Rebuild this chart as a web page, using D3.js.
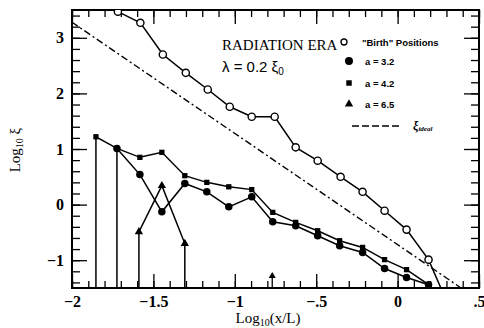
<!DOCTYPE html>
<html>
<head>
<meta charset="utf-8">
<script src="https://d3js.org/d3.v7.min.js"></script>
<style>
  body { margin: 0; background: #fff; }
  text { font-family: "Liberation Serif", "DejaVu Serif", serif; fill: #000; }
</style>
</head>
<body>
<div id="chart"></div>
<script>
// "Birth" positions (open circles)
var birthX = [-1.853, -1.718, -1.58, -1.442, -1.301, -1.166, -1.031, -0.896, -0.755, -0.626, -0.491, -0.350, -0.215, -0.080, 0.055, 0.190, 0.325];
var birthY = [3.62, 3.47, 3.27, 2.70, 2.37, 2.07, 1.76, 1.58, 1.58, 1.03, 0.79, 0.50, 0.23, -0.11, -0.45, -0.99, -1.90];

// a = 3.2 (filled circles); first value is where the curve drops to the floor
var a32X = [-1.724, -1.724, -1.583, -1.448, -1.307, -1.172, -1.037, -0.896, -0.767, -0.626, -0.491, -0.356, -0.215, -0.080, 0.055, 0.190, 0.325];
var a32Y = [-1.5, 1.01, 0.54, -0.13, 0.38, 0.23, -0.04, 0.14, -0.31, -0.38, -0.56, -0.74, -0.86, -1.15, -1.31, -1.44, -1.90];

// a = 4.2 (filled squares)
var a42X = [-1.853, -1.853, -1.724, -1.583, -1.448, -1.307, -1.172, -1.037, -0.896, -0.767, -0.626, -0.491, -0.356, -0.215, -0.080, 0.055, 0.190, 0.325];
var a42Y = [-1.5, 1.22, 1.01, 0.85, 0.94, 0.52, 0.40, 0.32, 0.27, -0.14, -0.32, -0.47, -0.65, -0.77, -0.99, -1.17, -1.44, -1.90];

// a = 6.5 (filled triangles)
var a65X = [-1.589, -1.589, -1.448, -1.307, -1.307];
var a65Y = [-1.5, -0.49, 0.34, -0.70, -1.5];

// xi_ideal (dash-dot)
var idealX = [-2, 0.4];
var idealY = [3.28, -1.52];

// small arrow on the bottom axis
var arrowX = [-0.77];

var xTickVals = [-2, -1.5, -1, -0.5, 0, 0.5];
var xTickLabels = ["\u22122", "\u22121.5", "\u22121", "\u2212.5", "0", ".5"];
var yTickVals = [-1, 0, 1, 2, 3];
var yTickLabels = ["\u22121", "0", "1", "2", "3"];

var margin = {top: 10, right: 5, bottom: 40, left: 72},
    width = 484 - margin.left - margin.right,
    height = 328 - margin.top - margin.bottom;

var serif = "'Liberation Serif', 'DejaVu Serif', serif";
var sans = "'Liberation Sans', 'DejaVu Sans', sans-serif";

var svg = d3.select("#chart").append("svg")
    .attr("width", 484).attr("height", 328)
  .append("g")
    .attr("transform", "translate(" + margin.left + "," + margin.top + ")");

var x = d3.scaleLinear().domain([-2, 0.5]).range([0, width]);
var y = d3.scaleLinear().domain([-1.5, 3.5]).range([height, 0]);

svg.append("clipPath").attr("id", "clip")
  .append("rect").attr("width", width).attr("height", height);

// minor ticks
var xMinor = d3.range(-20, 6).map(function(d) { return d / 10; });
var yMinor = d3.range(-7, 18).map(function(d) { return d / 5; });

function styleAxis(g) {
  g.select(".domain").remove();
  g.selectAll(".tick line").attr("stroke", "#000").attr("stroke-width", 1.3);
}

svg.append("g").attr("transform", "translate(0," + height + ")")
  .call(d3.axisBottom(x).tickValues(xMinor).tickSize(-7).tickFormat("")).call(styleAxis);
svg.append("g")
  .call(d3.axisTop(x).tickValues(xMinor).tickSize(-7).tickFormat("")).call(styleAxis);
svg.append("g")
  .call(d3.axisLeft(y).tickValues(yMinor).tickSize(-8).tickFormat("")).call(styleAxis);
svg.append("g").attr("transform", "translate(" + width + ",0)")
  .call(d3.axisRight(y).tickValues(yMinor).tickSize(-8).tickFormat("")).call(styleAxis);

// major ticks with labels
var xAx = svg.append("g").attr("transform", "translate(0," + height + ")")
  .call(d3.axisBottom(x).tickValues(xTickVals).tickSize(-14).tickPadding(8)
    .tickFormat(function(d, i) { return xTickLabels[i]; })).call(styleAxis);
svg.append("g")
  .call(d3.axisTop(x).tickValues(xTickVals).tickSize(-14).tickFormat("")).call(styleAxis);
var yAx = svg.append("g")
  .call(d3.axisLeft(y).tickValues(yTickVals).tickSize(-15).tickPadding(8)
    .tickFormat(function(d, i) { return yTickLabels[i]; })).call(styleAxis);
svg.append("g").attr("transform", "translate(" + width + ",0)")
  .call(d3.axisRight(y).tickValues(yTickVals).tickSize(-15).tickFormat("")).call(styleAxis);

[xAx, yAx].forEach(function(g) {
  g.selectAll("text")
    .style("font-family", serif)
    .style("font-size", "16px").style("font-weight", "bold");
});

// frame
svg.append("rect").attr("width", width).attr("height", height)
  .attr("fill", "none").attr("stroke", "#000").attr("stroke-width", 2);

var plot = svg.append("g").attr("clip-path", "url(#clip)");

function pts(xs, ys) { return xs.map(function(d, i) { return [d, ys[i]]; }); }
var line = d3.line().x(function(d) { return x(d[0]); }).y(function(d) { return y(d[1]); });

// ideal line
plot.append("path").datum(pts(idealX, idealY)).attr("d", line)
  .attr("fill", "none").attr("stroke", "#000").attr("stroke-width", 1.4)
  .attr("stroke-dasharray", "7,3,2,3");

var series = [
  {xs: birthX, ys: birthY, sym: "open"},
  {xs: a42X, ys: a42Y, sym: "square"},
  {xs: a32X, ys: a32Y, sym: "circle"},
  {xs: a65X, ys: a65Y, sym: "triangle"}
];

series.forEach(function(s) {
  var p = pts(s.xs, s.ys);
  plot.append("path").datum(p).attr("d", line)
    .attr("fill", "none").attr("stroke", "#000").attr("stroke-width", 1.5);
  var m = p.filter(function(d) { return d[1] > -1.5; });
  var g = plot.append("g");
  if (s.sym === "open") {
    g.selectAll("circle").data(m).enter().append("circle")
      .attr("cx", function(d) { return x(d[0]); }).attr("cy", function(d) { return y(d[1]); })
      .attr("r", 3.6).attr("fill", "#fff").attr("stroke", "#000").attr("stroke-width", 1.4);
  } else {
    var type = s.sym === "circle" ? d3.symbolCircle : s.sym === "square" ? d3.symbolSquare : d3.symbolTriangle;
    var size = s.sym === "circle" ? 44 : s.sym === "square" ? 28 : 30;
    g.selectAll("path").data(m).enter().append("path")
      .attr("d", d3.symbol().type(type).size(size))
      .attr("transform", function(d) { return "translate(" + x(d[0]) + "," + y(d[1]) + ")"; })
      .attr("fill", "#000");
  }
});

// arrow on bottom axis
arrowX.forEach(function(a) {
  plot.append("line").attr("x1", x(a)).attr("x2", x(a))
    .attr("y1", height).attr("y2", height - 12).attr("stroke", "#000").attr("stroke-width", 1.3);
  plot.append("path").attr("d", d3.symbol().type(d3.symbolTriangle).size(22))
    .attr("transform", "translate(" + x(a) + "," + (height - 12) + ")").attr("fill", "#000");
});

// annotations
svg.append("text").attr("x", 222 - margin.left).attr("y", 50 - margin.top)
  .style("font-family", serif).style("font-size", "15px").text("RADIATION ERA");
var lam = svg.append("text").attr("x", 222 - margin.left).attr("y", 72 - margin.top)
  .style("font-family", sans).style("font-size", "15px");
lam.append("tspan").text("\u03bb  =  0.2  \u03be");
lam.append("tspan").attr("dy", 3).style("font-size", "10px").text("0");

// legend
var legendRows = [
  {sym: "open", label: "\"Birth\" Positions", py: 42},
  {sym: "circle", label: "a = 3.2", py: 61},
  {sym: "square", label: "a = 4.2", py: 83},
  {sym: "triangle", label: "a = 6.5", py: 104}
];
var lg = svg.append("g").attr("transform", "translate(" + (-margin.left) + "," + (-margin.top) + ")");
legendRows.forEach(function(r) {
  if (r.sym === "open") {
    lg.append("circle").attr("cx", 344).attr("cy", r.py).attr("r", 3)
      .attr("fill", "#fff").attr("stroke", "#000").attr("stroke-width", 1.3);
    lg.append("text").attr("x", 362).attr("y", r.py + 3.5)
      .style("font-family", sans).style("font-weight", "bold")
      .style("font-size", "9.5px").text(r.label);
  } else {
    var type = r.sym === "circle" ? d3.symbolCircle : r.sym === "square" ? d3.symbolSquare : d3.symbolTriangle;
    lg.append("path").attr("d", d3.symbol().type(type).size(r.sym === "circle" ? 50 : 30))
      .attr("transform", "translate(349," + r.py + ")").attr("fill", "#000");
    lg.append("text").attr("x", 365).attr("y", r.py + 3.5)
      .style("font-family", sans).style("font-weight", "bold")
      .style("font-size", "9.5px").text(r.label);
  }
});
lg.append("line").attr("x1", 352).attr("x2", 399).attr("y1", 126).attr("y2", 126)
  .attr("stroke", "#000").attr("stroke-width", 1.4).attr("stroke-dasharray", "7,3");
var xi = lg.append("text").attr("x", 413).attr("y", 130)
  .style("font-family", serif).style("font-size", "12px")
  .style("font-style", "italic").style("font-weight", "bold");
xi.append("tspan").text("\u03be");
xi.append("tspan").attr("dy", 1).style("font-size", "7px").text("ideal");

// axis titles
var xt = svg.append("text").attr("x", 268 - margin.left).attr("y", 323 - margin.top)
  .attr("text-anchor", "middle").style("font-family", serif).style("font-size", "15px");
xt.append("tspan").text("Log");
xt.append("tspan").attr("dy", 3).style("font-size", "10px").text("10");
xt.append("tspan").attr("dy", -3).text("(x/L)");

var yt = svg.append("text")
  .attr("transform", "translate(" + (20 - margin.left) + "," + (150 - margin.top) + ") rotate(-90)")
  .attr("text-anchor", "middle").style("font-family", serif).style("font-size", "15px");
yt.append("tspan").text("Log");
yt.append("tspan").attr("dy", 3).style("font-size", "10px").text("10");
yt.append("tspan").attr("dy", -3).text(" \u03be");
</script>
</body>
</html>
